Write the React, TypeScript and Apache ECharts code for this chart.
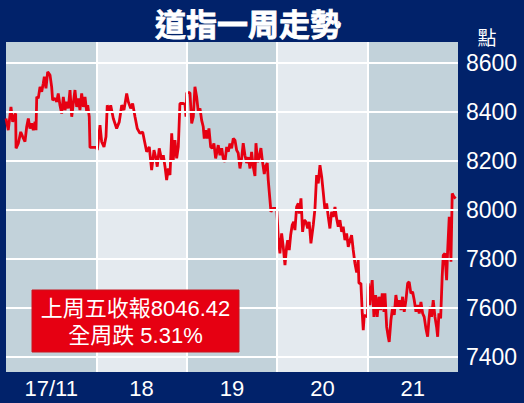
import React, { useEffect, useRef } from "react";
import * as echarts from "echarts";

// x labels (one per trading day) and y tick labels
const dayLabels = ["17/11", "18", "19", "20", "21"];
const yTicks = [7400, 7600, 7800, 8000, 8200, 8400, 8600];
const dayBreaks = [1, 2, 3, 4];

// intraday points: [time in trading days from Mon open, Dow index level]
const day17: [number, number][] = [
  [0, 8373], [0.025, 8325], [0.055, 8420], [0.074, 8359], [0.088, 8380], [0.107, 8393], [0.111, 8251],
  [0.136, 8271], [0.163, 8318], [0.185, 8298], [0.21, 8278], [0.229, 8339], [0.247, 8373], [0.265, 8332],
  [0.284, 8353], [0.302, 8325], [0.321, 8359], [0.332, 8325], [0.34, 8461], [0.357, 8455], [0.376, 8502],
  [0.395, 8482], [0.412, 8516], [0.424, 8543], [0.442, 8496], [0.461, 8563], [0.487, 8550], [0.505, 8502],
  [0.516, 8448], [0.542, 8455], [0.561, 8441], [0.578, 8475], [0.597, 8427], [0.616, 8393], [0.634, 8461],
  [0.653, 8407], [0.671, 8441], [0.689, 8414], [0.708, 8489], [0.727, 8380], [0.744, 8434], [0.763, 8489],
  [0.782, 8420], [0.8, 8455], [0.818, 8407], [0.837, 8475], [0.855, 8420], [0.874, 8461], [0.893, 8400],
  [0.904, 8427], [0.921, 8380], [0.929, 8255], [1.003, 8255],
];
const day18: [number, number][] = [
  [1.01, 8244], [1.04, 8346], [1.058, 8278], [1.084, 8257], [1.106, 8298], [1.12, 8427], [1.143, 8400],
  [1.158, 8427], [1.187, 8373], [1.224, 8332], [1.253, 8359], [1.28, 8427], [1.305, 8407], [1.335, 8475],
  [1.353, 8441], [1.379, 8414], [1.401, 8434], [1.427, 8380], [1.452, 8332], [1.482, 8312], [1.512, 8318],
  [1.53, 8284], [1.556, 8237], [1.585, 8257], [1.611, 8162], [1.637, 8244], [1.659, 8210], [1.673, 8176],
  [1.695, 8251], [1.722, 8203], [1.74, 8223], [1.759, 8176], [1.777, 8121], [1.795, 8169], [1.814, 8142],
  [1.833, 8312], [1.85, 8203], [1.869, 8284], [1.888, 8210], [1.906, 8257], [1.924, 8434], [1.961, 8434],
  [1.98, 8431], [1.991, 8380],
];
const day19: [number, number][] = [
  [2.0, 8478], [2.035, 8478], [2.054, 8353], [2.072, 8380], [2.09, 8502], [2.109, 8461], [2.127, 8400],
  [2.146, 8414], [2.164, 8366], [2.182, 8339], [2.193, 8291], [2.209, 8325], [2.226, 8291], [2.245, 8332],
  [2.264, 8257], [2.282, 8251], [2.3, 8271], [2.319, 8210], [2.348, 8264], [2.367, 8223], [2.386, 8251],
  [2.403, 8210], [2.422, 8196], [2.441, 8257], [2.459, 8237], [2.477, 8271], [2.496, 8251], [2.514, 8291],
  [2.533, 8284], [2.551, 8244], [2.569, 8231], [2.588, 8169], [2.607, 8211], [2.624, 8272], [2.643, 8223],
  [2.662, 8191], [2.68, 8215], [2.699, 8169], [2.717, 8236], [2.735, 8176], [2.754, 8138], [2.765, 8272],
  [2.784, 8195], [2.798, 8211], [2.82, 8252], [2.835, 8203], [2.857, 8146], [2.872, 8178], [2.89, 8191],
  [2.901, 8121], [2.92, 8040], [2.931, 7992], [2.95, 8006], [2.994, 8006],
];
const day20: [number, number][] = [
  [3.005, 7938], [3.012, 7883], [3.03, 7822], [3.049, 7904], [3.067, 7849], [3.086, 7774], [3.104, 7849],
  [3.116, 7876], [3.133, 7836], [3.149, 7897], [3.166, 7938], [3.182, 7951], [3.196, 7917], [3.215, 8012],
  [3.233, 8026], [3.244, 7985], [3.263, 8047], [3.281, 7910], [3.299, 7958], [3.318, 7951], [3.337, 7924],
  [3.354, 7951], [3.373, 7863], [3.399, 7938], [3.418, 8006], [3.436, 8142], [3.454, 8108], [3.473, 8182],
  [3.492, 8135], [3.509, 8073], [3.528, 7999], [3.547, 8026], [3.565, 7971], [3.583, 7924], [3.602, 7992],
  [3.62, 7971], [3.639, 8012], [3.657, 7965], [3.675, 7931], [3.694, 7958], [3.713, 7910], [3.73, 7931],
  [3.749, 7876], [3.768, 7904], [3.786, 7849], [3.805, 7876], [3.823, 7897], [3.841, 7836], [3.86, 7781],
  [3.879, 7744], [3.896, 7795], [3.904, 7700], [3.926, 7700], [3.941, 7577], [3.952, 7509], [3.963, 7570],
  [3.998, 7563],
];
const day21: [number, number][] = [
  [4.007, 7700], [4.026, 7611], [4.037, 7672], [4.051, 7713], [4.07, 7563], [4.089, 7652], [4.106, 7563],
  [4.125, 7645], [4.144, 7591], [4.162, 7659], [4.181, 7583], [4.192, 7659], [4.211, 7522], [4.228, 7482],
  [4.239, 7461], [4.258, 7550], [4.277, 7604], [4.295, 7571], [4.313, 7652], [4.332, 7604], [4.35, 7631],
  [4.369, 7591], [4.387, 7645], [4.405, 7584], [4.424, 7631], [4.443, 7700], [4.46, 7706], [4.479, 7659],
  [4.498, 7665], [4.516, 7631], [4.535, 7584], [4.553, 7611], [4.571, 7577], [4.59, 7624], [4.609, 7577],
  [4.626, 7563], [4.645, 7516], [4.664, 7482], [4.678, 7550], [4.693, 7604], [4.708, 7563], [4.726, 7631],
  [4.745, 7563], [4.763, 7522], [4.775, 7482], [4.789, 7577], [4.808, 7557], [4.825, 7727], [4.837, 7815],
  [4.855, 7822], [4.874, 7713], [4.885, 7829], [4.903, 7971], [4.922, 7788], [4.936, 8067], [4.955, 8053],
  [4.974, 8046.42],
];

const titleText = "道指一周走勢";
const unitText = "點";
const noteLine1 = "上周五收報8046.42";
const noteLine2 = "全周跌 5.31%";

const NAVY = "#01226a";
const BAND_DARK = "#c2d2da";
const BAND_LIGHT = "#e4eaef";
const RED = "#e60012";
const FONT = '"Liberation Sans", Arial, "Noto Sans CJK TC", sans-serif';

export default function App() {
  const ref = useRef<HTMLDivElement>(null);
  useEffect(() => {
    if (!ref.current) return;
    const chart = echarts.init(ref.current, undefined, { renderer: "svg" });
    const points = [...day17, ...day18, ...day19, ...day20, ...day21];
    chart.setOption({
      animation: false,
      backgroundColor: NAVY,
      grid: { left: 6, right: 66, top: 42, bottom: 31 },
      xAxis: [
        {
          type: "category",
          data: dayLabels,
          boundaryGap: true,
          axisLine: { show: false },
          axisTick: { show: false },
          splitLine: { show: false },
          splitArea: { show: true, areaStyle: { color: [BAND_DARK, BAND_LIGHT] } },
          axisLabel: { color: "#fff", fontSize: 22, fontFamily: FONT, margin: 5 },
        },
        { type: "value", min: 0, max: 5, show: false },
      ],
      yAxis: {
        type: "value",
        position: "right",
        min: 7338,
        max: 8685,
        axisLine: { show: false },
        axisTick: { show: false },
        splitLine: { show: false },
        axisLabel: {
          customValues: yTicks,
          formatter: (v: number) => String(v),
          color: "#fff",
          fontSize: 23,
          fontFamily: FONT,
          margin: 8,
        },
      },
      series: [
        {
          type: "line",
          xAxisIndex: 1,
          data: [],
          z: 1,
          silent: true,
          markLine: {
            silent: true,
            symbol: ["none", "none"],
            label: { show: false },
            lineStyle: { color: "#fff", width: 2, type: "solid" },
            data: [...yTicks.map((v) => ({ yAxis: v })), ...dayBreaks.map((x) => ({ xAxis: x }))],
          },
        },
        {
          type: "line",
          xAxisIndex: 1,
          data: points,
          symbol: "none",
          z: 3,
          lineStyle: { color: RED, width: 2.8 },
        },
      ],
      graphic: [
        {
          type: "text",
          x: 248,
          y: 22,
          z: 100,
          style: {
            text: titleText,
            fill: "#fff",
            stroke: "#fff",
            lineWidth: 0.8,
            font: 'bold 31px "Noto Sans CJK TC", sans-serif',
            textAlign: "center",
            textVerticalAlign: "middle",
            align: "center",
            verticalAlign: "middle",
          },
        },
        {
          type: "text",
          x: 487,
          y: 36,
          z: 100,
          style: {
            text: unitText,
            fill: "#fff",
            font: '19px "Noto Sans CJK TC", sans-serif',
            textAlign: "center",
            textVerticalAlign: "middle",
            align: "center",
            verticalAlign: "middle",
          },
        },
        {
          type: "rect",
          z: 100,
          shape: { x: 32, y: 290, width: 207, height: 62 },
          style: { fill: RED, stroke: "#c8141c", lineWidth: 1 },
        },
        {
          type: "text",
          x: 135.5,
          y: 308,
          z: 101,
          style: {
            text: noteLine1,
            fill: "#fff",
            font: '22px "Liberation Sans", "Noto Sans CJK TC", sans-serif',
            textAlign: "center",
            textVerticalAlign: "middle",
            align: "center",
            verticalAlign: "middle",
          },
        },
        {
          type: "text",
          x: 135.5,
          y: 335,
          z: 101,
          style: {
            text: noteLine2,
            fill: "#fff",
            font: '22px "Liberation Sans", "Noto Sans CJK TC", sans-serif',
            textAlign: "center",
            textVerticalAlign: "middle",
            align: "center",
            verticalAlign: "middle",
          },
        },
      ],
    });
    return () => chart.dispose();
  }, []);
  return (
    <div
      ref={ref}
      style={{ position: "absolute", left: 0, top: 0, width: 524, height: 403 }}
    />
  );
}
